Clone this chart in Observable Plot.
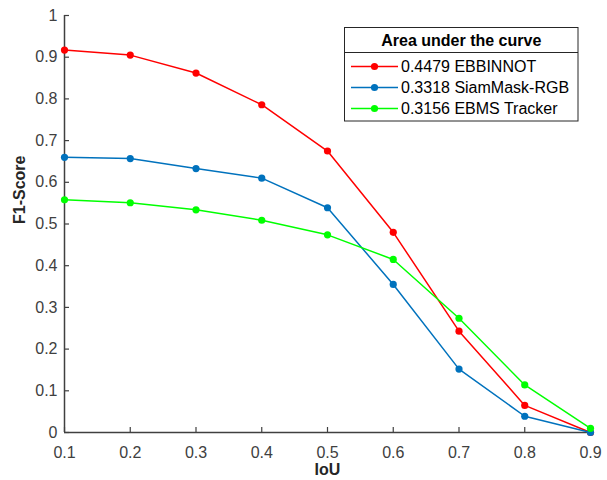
<!DOCTYPE html>
<html>
<head>
<meta charset="utf-8">
<script src="https://cdn.jsdelivr.net/npm/d3@7"></script>
<script src="https://cdn.jsdelivr.net/npm/@observablehq/plot@0.6"></script>
<style>
  html, body { margin: 0; padding: 0; background: #fff; }
  #chart svg { display: block; }
</style>
</head>
<body>
<div id="chart"></div>
<script>
// ---- data ----
const iou = [0.1, 0.2, 0.3, 0.4, 0.5, 0.6, 0.7, 0.8, 0.9];
const ebbinnot = [0.917, 0.905, 0.862, 0.786, 0.675, 0.480, 0.243, 0.065, 0.0];
const siamMask = [0.660, 0.657, 0.633, 0.610, 0.539, 0.355, 0.152, 0.039, 0.0];
const ebms = [0.558, 0.551, 0.534, 0.509, 0.474, 0.415, 0.274, 0.114, 0.010];
const seriesNames = ["EBBINNOT", "SiamMask-RGB", "EBMS Tracker"];
const aucValues = ["0.4479", "0.3318", "0.3156"];
const seriesColors = ["#ff0000", "#0072bd", "#00ff00"];
const xTicks = [0.1, 0.2, 0.3, 0.4, 0.5, 0.6, 0.7, 0.8, 0.9];
const yTicks = [0, 0.1, 0.2, 0.3, 0.4, 0.5, 0.6, 0.7, 0.8, 0.9, 1];
const legendTitle = "Area under the curve";

const seriesValues = [ebbinnot, siamMask, ebms];
const rows = [];
seriesValues.forEach((vals, s) => {
  vals.forEach((v, i) => rows.push({series: seriesNames[s], x: iou[i], y: v}));
});

const W = 607, H = 480;
const mL = 64, mR = 17, mT = 15, mB = 48;
const axisColor = "#404040";
const font = "'Liberation Sans', Arial, Helvetica, sans-serif";

const chart = Plot.plot({
  width: W, height: H,
  marginLeft: mL, marginRight: mR, marginTop: mT, marginBottom: mB,
  style: {fontFamily: font, fontSize: "16px", color: axisColor, background: "#fff"},
  x: {domain: [0.1, 0.9]},
  y: {domain: [0, 1]},
  color: {domain: seriesNames, range: seriesColors},
  marks: [
    Plot.axisX({ticks: xTicks, tickSize: 0, tickPadding: 14, label: null, fontSize: 16, tickFormat: d => String(d), fill: axisColor}),
    Plot.axisY({ticks: yTicks, tickSize: 0, tickPadding: 7, label: null, fontSize: 16, tickFormat: d => String(d), fill: axisColor}),
    Plot.tickX(xTicks, {x: d => d, stroke: axisColor, strokeWidth: 1.2, insetTop: H - mT - mB - 5}),
    Plot.tickY(yTicks, {y: d => d, stroke: axisColor, strokeWidth: 1.2, insetRight: W - mL - mR - 5}),
    Plot.ruleX([0.1], {stroke: axisColor, strokeWidth: 1.5}),
    Plot.ruleY([0], {stroke: axisColor, strokeWidth: 1.5}),
    Plot.line(rows, {x: "x", y: "y", z: "series", stroke: "series", strokeWidth: 1.5}),
    Plot.dot(rows, {x: "x", y: "y", fill: "series", r: 3.6, stroke: null}),
    Plot.text(["IoU"], {frameAnchor: "bottom", dy: 37, lineAnchor: "middle", fontWeight: "bold", fontSize: 16, fill: "#262626"}),
    Plot.text(["F1-Score"], {frameAnchor: "left", dx: -44.5, rotate: -90, lineAnchor: "middle", fontWeight: "bold", fontSize: 16, fill: "#262626"})
  ]
});

document.getElementById("chart").appendChild(chart);

// ---- legend (MATLAB-style boxed legend) ----
const svg = d3.select(chart);
const lg = svg.append("g").attr("font-family", font).attr("font-size", 16).attr("text-anchor", "start");
const bx = 344.5, by = 27.5, bw = 233.5, bh = 93.5, sepY = 52.5;
lg.append("rect").attr("x", bx).attr("y", by).attr("width", bw).attr("height", bh)
  .attr("fill", "#fff").attr("stroke", "#262626").attr("stroke-width", 1);
lg.append("line").attr("x1", bx).attr("x2", bx + bw).attr("y1", sepY).attr("y2", sepY)
  .attr("stroke", "#262626").attr("stroke-width", 1);
lg.append("text").attr("x", bx + bw / 2).attr("y", (by + sepY) / 2).attr("dy", "0.35em")
  .attr("text-anchor", "middle").attr("font-weight", "bold").attr("fill", "#000").text(legendTitle);
seriesNames.forEach((name, i) => {
  const cy = 66.5 + i * 21;
  lg.append("line").attr("x1", 351).attr("x2", 398).attr("y1", cy).attr("y2", cy)
    .attr("stroke", seriesColors[i]).attr("stroke-width", 1.5);
  lg.append("circle").attr("cx", 374.5).attr("cy", cy).attr("r", 3.6).attr("fill", seriesColors[i]);
  lg.append("text").attr("x", 401).attr("y", cy).attr("dy", "0.35em").attr("fill", "#000")
    .attr("text-anchor", "start")
    .text(aucValues[i] + " " + name);
});
</script>
</body>
</html>
